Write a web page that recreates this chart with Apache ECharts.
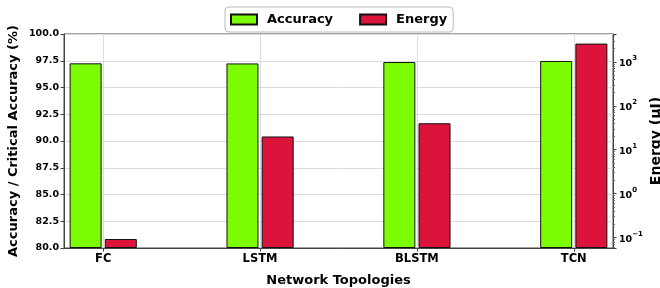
<!DOCTYPE html>
<html>
<head>
<meta charset="utf-8">
<script src="https://cdn.jsdelivr.net/npm/echarts@6/dist/echarts.min.js"></script>
<style>
  html, body { margin: 0; padding: 0; background: #fff; }
  #chart { width: 660px; height: 288px; }
</style>
</head>
<body>
<div id="chart"></div>
<script>
// data
var categories = ["FC", "LSTM", "BLSTM", "TCN"];
var accuracy = [97.26, 97.25, 97.38, 97.48];   // %
var energy = [0.093, 20, 40, 2600];            // uJ, log scale
var accRange = [80, 100, 2.5];                 // min, max, step
var energyRange = [0.058, 4300];               // log axis extent

var FONT = "DejaVu Sans";
var SPINE = "#444";
var GRID = "#dcdcdc";

var chart = echarts.init(document.getElementById("chart"), null, { renderer: "canvas" });

var sup = { "-1": "\u22121" };
var catIdx = categories.map(function (c, i) { return i; });

var option = {
  animation: false,
  backgroundColor: "#fff",
  textStyle: { fontFamily: FONT },
  legend: {
    top: 7,
    left: 225,
    padding: [6, 6, 6, 5],
    itemGap: 26,
    itemWidth: 26,
    itemHeight: 10,
    icon: "rect",
    borderColor: "#bbb",
    borderWidth: 1,
    borderRadius: 4,
    textStyle: { fontFamily: FONT, fontWeight: "bold", fontSize: 13, color: "#000", padding: [0, 0, 0, 5] },
    data: ["Accuracy", "Energy"]
  },
  grid: {
    left: 64, right: 47, top: 34, bottom: 40,
    outerBoundsMode: "none",
    containLabel: false,
    show: true, borderColor: SPINE, borderWidth: 1, backgroundColor: "transparent"
  },
  xAxis: {
    type: "value",
    min: -0.25,
    max: categories.length - 0.75,
    name: "Network Topologies",
    nameLocation: "middle",
    nameGap: 26,
    nameTextStyle: { fontFamily: FONT, fontWeight: "bold", fontSize: 13, color: "#000" },
    axisLine: { show: true, onZero: false, lineStyle: { color: SPINE } },
    axisTick: { show: true, length: 3.5, lineStyle: { color: SPINE }, customValues: catIdx },
    axisLabel: {
      customValues: catIdx,
      formatter: function (v) { return categories[Math.round(v)] || ""; },
      fontFamily: FONT, fontWeight: "bold", fontSize: 11.5, color: "#000", margin: 5
    },
    splitLine: { show: false }
  },
  yAxis: [
    {
      type: "value",
      min: accRange[0],
      max: accRange[1],
      interval: accRange[2],
      startValue: accRange[0],
      name: "Accuracy / Critical Accuracy (%)",
      nameLocation: "middle",
      nameMoveOverlap: false,
      nameGap: 44,
      nameTextStyle: { fontFamily: FONT, fontWeight: "bold", fontSize: 13, color: "#000" },
      axisLine: { show: true, onZero: false, lineStyle: { color: SPINE } },
      axisTick: { show: true, length: 3.5, lineStyle: { color: SPINE } },
      axisLabel: {
        formatter: function (v) { return v.toFixed(1); },
        fontFamily: FONT, fontWeight: "bold", fontSize: 9.5, color: "#000", margin: 5
      },
      splitLine: { show: true, lineStyle: { color: GRID, width: 1 } }
    },
    {
      type: "log",
      logBase: 10,
      min: energyRange[0],
      max: energyRange[1],
      startValue: energyRange[0],
      name: "Energy (\u00b5J)",
      nameLocation: "middle",
      nameMoveOverlap: false,
      nameGap: 36,
      nameTextStyle: { fontFamily: FONT, fontWeight: "bold", fontSize: 14, color: "#000" },
      axisLine: { show: true, onZero: false, lineStyle: { color: SPINE } },
      axisTick: { show: true, length: 3.5, lineStyle: { color: SPINE } },
      minorTick: { show: true, splitNumber: 9, length: 2, lineStyle: { color: "#666" } },
      axisLabel: {
        showMinLabel: false,
        showMaxLabel: false,
        margin: 6,
        formatter: function (v) {
          var e = Math.round(Math.log(v) / Math.LN10);
          var s = sup[String(e)] || String(e);
          return "{b|10}{s|" + s + "}";
        },
        rich: {
          b: { fontFamily: FONT, fontWeight: "bold", fontSize: 9.5, color: "#000", lineHeight: 14, verticalAlign: "bottom" },
          s: { fontFamily: FONT, fontWeight: "bold", fontSize: 7, color: "#000", verticalAlign: "top", padding: [0, 0, 6, 0] }
        }
      },
      splitLine: { show: false }
    }
  ],
  series: [
    {
      // vertical grid lines at the category centres
      name: "vgrid",
      type: "line",
      z: 1,
      data: [],
      markLine: {
        silent: true,
        symbol: ["none", "none"],
        label: { show: false },
        lineStyle: { color: GRID, width: 1, type: "solid" },
        data: catIdx.map(function (i) { return { xAxis: i }; })
      }
    },
    {
      name: "Accuracy",
      type: "bar",
      z: 2,
      yAxisIndex: 0,
      barWidth: 32,
      barGap: "10%",
      itemStyle: { color: "#7CFC00", borderColor: "#111", borderWidth: 1 },
      data: accuracy.map(function (v, i) { return [i, v]; })
    },
    {
      name: "Energy",
      type: "bar",
      z: 2,
      yAxisIndex: 1,
      barWidth: 32,
      barGap: "10%",
      itemStyle: { color: "#DC143C", borderColor: "#111", borderWidth: 1 },
      data: energy.map(function (v, i) { return [i, v]; })
    }
  ]
};

chart.setOption(option);
</script>
</body>
</html>
